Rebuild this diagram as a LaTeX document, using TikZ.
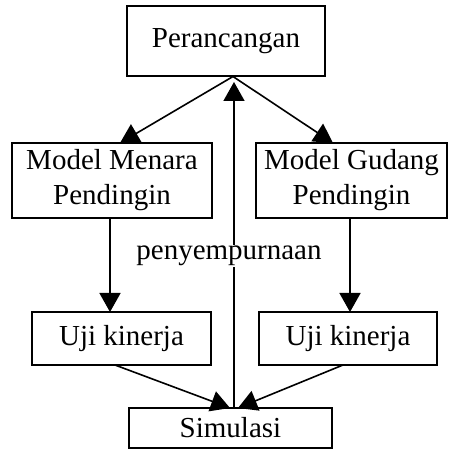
\documentclass[tikz,border=0pt]{standalone}
\usepackage{fontspec}
\setmainfont{Liberation Serif}
\usetikzlibrary{arrows.meta}
\begin{document}
\begin{tikzpicture}[x=1pt,y=-1pt,
  box/.style={draw,line width=1.5pt,inner sep=0pt,align=center,font=\fontsize{29}{35}\selectfont},
  conn/.style={line width=1.6pt,-{Triangle[width=21pt,length=19pt]}},
  lbl/.style={fill=white,inner sep=1pt,font=\fontsize{29}{35}\selectfont}]
\useasboundingbox (0,0) rectangle (450,449);
\node[box,minimum width=198pt,minimum height=70pt] (P) at (226,41) {Perancangan};
\node[box,minimum width=200pt,minimum height=75pt] (M) at (112,180.5) {Model Menara\\Pendingin};
\node[box,minimum width=191pt,minimum height=75pt] (G) at (351.5,180.5) {Model Gudang\\Pendingin};
\node[box,minimum width=179pt,minimum height=53pt] (U1) at (121.5,338.5) {Uji kinerja};
\node[box,minimum width=178pt,minimum height=53pt] (U2) at (348,338.5) {Uji kinerja};
\node[box,minimum width=203pt,minimum height=40pt] (S) at (230.5,428) {Simulasi};
\coordinate (pb) at (233,76.5);
\coordinate (mt) at (120,143);
\coordinate (gt) at (333,143);
\coordinate (mb) at (110,218);
\coordinate (u1t) at (110,312);
\coordinate (gb) at (350,218);
\coordinate (u2t) at (350,312);
\coordinate (u1b) at (115,365);
\coordinate (u2b) at (343,365);
\coordinate (s1) at (230,408);
\coordinate (s2) at (238,408);
\coordinate (st) at (234,408);
\coordinate (vt) at (234,82);
\draw[conn] (pb) -- (mt);
\draw[conn] (pb) -- (gt);
\draw[conn] (mb) -- (u1t);
\draw[conn] (gb) -- (u2t);
\draw[conn] (u1b) -- (s1);
\draw[conn] (u2b) -- (s2);
\draw[conn] (st) -- (vt);
\node[lbl] (L) at (229,256) {penyempurnaan};
\end{tikzpicture}
\end{document}
